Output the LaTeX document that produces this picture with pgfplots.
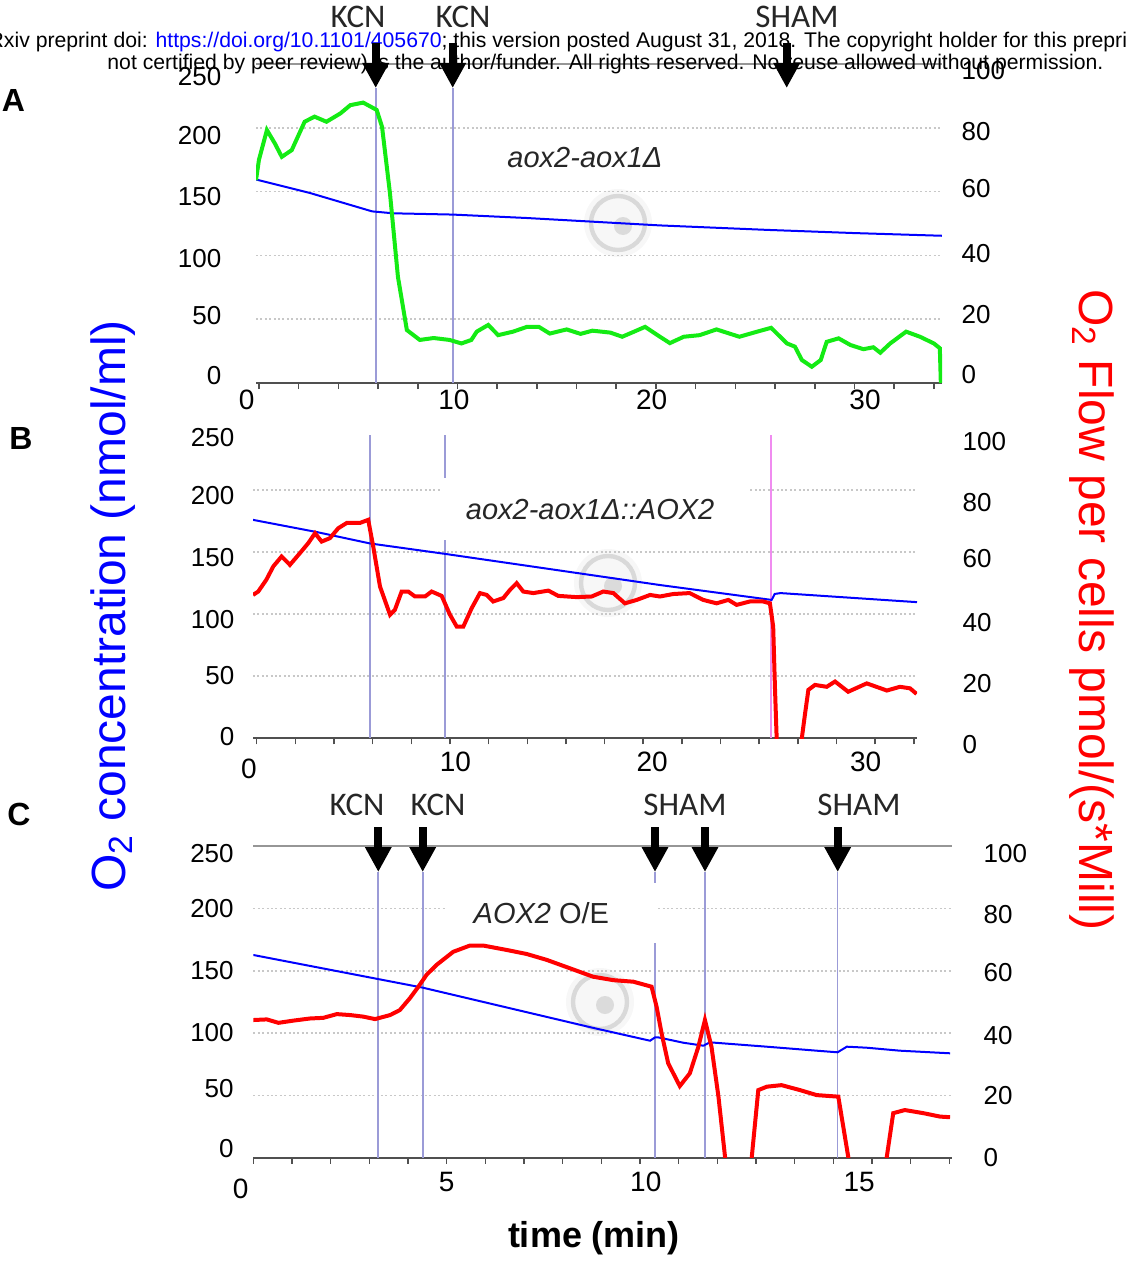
\documentclass[border=0pt]{standalone}
\usepackage{fontspec}
\setmainfont{Liberation Sans}
\newfontfamily\calib{Carlito}
\usepackage{pgfplots}
\pgfplotsset{compat=1.18}
\usetikzlibrary{arrows.meta}

\definecolor{o2blue}{RGB}{0,0,255}
\definecolor{flowgreen}{RGB}{20,235,20}
\definecolor{flowred}{RGB}{255,0,0}
\definecolor{evline}{RGB}{155,155,215}
\definecolor{shamline}{RGB}{240,140,240}
\definecolor{gridcol}{RGB}{200,200,200}
\definecolor{axisgray}{RGB}{80,80,80}
\definecolor{topline}{RGB}{150,150,150}

\tikzset{
  gridline/.style={gridcol, line width=0.8pt, dash pattern=on 1pt off 1.2pt},
  evt/.style={evline, line width=0.9pt},
}
\pgfplotsset{
  every axis/.append style={scale only axis, clip mode=individual,
    /pgf/number format/assume math mode=true},
  lefty/.style={
    ymin=0, ymax=250,
    axis x line*=bottom, axis y line*=left,
    y axis line style={draw=none},
    x axis line style={draw=axisgray, line width=1pt},
    major tick length=0pt, minor tick length=3pt, tick align=outside,
    minor tick style={draw=axisgray, line width=0.8pt},
    yticklabels={0,50,100,150,200,250},
    xticklabel style={font=\fontsize{14}{16}\selectfont},
    yticklabel style={font=\fontsize{13}{15}\selectfont},
    extra x tick labels={0},
  },
  righty/.style={
    ymin=0, ymax=100,
    axis x line=none, axis y line*=right, xtick=\empty,
    y axis line style={draw=none},
    major tick length=0pt,
    yticklabels={0,20,40,60,80,100},
    yticklabel style={font=\fontsize{13}{15}\selectfont},
  },
}

\begin{document}
\begin{tikzpicture}

% faint instrument logos behind the traces
\begin{scope}[x=0.5pt,y=-0.5pt]
  \foreach \cx/\cy in {618/223, 608/583, 600/1002} {
    \fill[gray!6] (\cx,\cy) circle[radius=17pt];
    \draw[gray!30, line width=2.2pt] (\cx,\cy) circle[radius=13.5pt];
    \fill[gray!28] (\cx+5,\cy+3) circle[radius=4.5pt];
  }
\end{scope}

% ---------------- panel A ----------------
\begin{axis}[lefty, at={(128pt,-191.5pt)}, anchor=south west,
  width=343pt, height=159.5pt, xmin=-0.15, xmax=34.41,
  xtick={9.82,19.78,30.53}, xticklabels={10,20,30},
  extra x ticks={-0.149}, extra x tick style={xticklabel style={xshift=-4.65pt}},
  minor xtick={0,2,...,34},
  ytick={5.7,52.8,97.3,145.8,194.1,240},
  yticklabel style={xshift=-13.8pt}]
\pgfplotsinvokeforeach{0.2,0.4,0.6,0.8}{\draw[gridline] (rel axis cs:0,#1) -- (rel axis cs:1,#1);}
\draw[topline, line width=1pt] (rel axis cs:0,1) -- (rel axis cs:1,1);
\draw[evt] (axis cs:5.88,0) -- (axis cs:5.88,231.5);
\draw[evt] (axis cs:9.76,0) -- (axis cs:9.76,231.5);
\node[font=\fontsize{14.5}{16}\selectfont\itshape, text=black!85] at (axis cs:16.42,176.6) {aox2-aox1Δ};
\addplot[o2blue, line width=1pt] coordinates {
  (-0.15,159.5)(2.57,148.9)(5.7,134.5)(6.75,133)(9.76,132)(13.5,129.3)
  (20.2,123.5)(25.6,120)(30,117.5)(34.4,115.4)};
\end{axis}
\begin{axis}[righty, at={(128pt,-191.5pt)}, anchor=south west,
  width=343pt, height=159.5pt, xmin=-0.15, xmax=34.41,
  ytick={2.8,21.6,40.7,60.8,78.8,98.1},
  yticklabel style={xshift=6.3pt}]
\addplot[flowgreen, line width=2pt] coordinates {
  (-0.15,63.6)(0,70)(0.4,79.3)(0.8,75.1)(1.15,70.9)(1.65,73)(2.3,81.9)
  (2.8,83.5)(3.4,81.9)(4.1,84.5)(4.6,87.1)(5.25,87.9)(5.93,85.6)(6.2,80.3)
  (6.6,59.4)(7.0,33.3)(7.45,16.6)(8.1,13.5)(8.8,14.1)(9.6,13.5)(10.2,12.4)
  (10.7,13.5)(10.97,16.1)(11.55,18.2)(12.05,15)(12.8,16.1)(13.5,17.6)
  (14.1,17.6)(14.65,15.5)(15.5,16.8)(16.2,15.4)(16.8,16.4)(17.7,15.8)
  (18.3,14.5)(18.9,16.1)(19.45,17.6)(20.2,14.5)(20.7,12.5)(21.4,14.5)
  (22.2,15)(23.05,16.8)(24.2,14.5)(25.1,16.1)(25.8,17.3)(26.6,12.4)
  (27.0,11.4)(27.35,7.2)(27.85,5.1)(28.3,7.2)(28.6,12.9)(29.2,14)
  (29.8,11.9)(30.45,10.6)(30.95,11.2)(31.3,9.5)(31.8,12.4)(32.6,16.1)
  (33.3,14.5)(34.0,12.4)(34.3,10.9)(34.35,0)};
\end{axis}

% ---------------- panel B ----------------
\begin{axis}[lefty, at={(126.5pt,-369.15pt)}, anchor=south west,
  width=332pt, height=155.15pt, xmin=-0.19, xmax=34.16,
  xtick={10.28,20.46,31.5}, xticklabels={10,20,30},
  extra x ticks={-0.189}, extra x tick style={xticklabel style={xshift=-2pt, yshift=-3.5pt}},
  minor xtick={0,2,...,34},
  xticklabel style={yshift=-3.5pt},
  ytick={1.3,50.5,95.6,145.9,195.6,242.6},
  yticklabel style={xshift=-5.8pt}]
\pgfplotsinvokeforeach{0.2,0.4,0.6,0.8}{\draw[gridline] (rel axis cs:0,#1) -- (rel axis cs:1,#1);}
\draw[evt] (axis cs:5.86,0) -- (axis cs:5.86,244.6);
\draw[evt] (axis cs:9.74,0) -- (axis cs:9.74,244.6);
\draw[shamline, line width=0.9pt] (axis cs:26.6,0) -- (axis cs:26.6,244.6);
\fill[white] (axis cs:9.48,159.9) rectangle (axis cs:25.52,209.9);
\node[font=\fontsize{14.5}{16}\selectfont\itshape, text=black!85] at (axis cs:17.25,184) {aox2-aox1Δ::AOX2};
\addplot[o2blue, line width=1pt] coordinates {
  (-0.19,176)(3.1,166.2)(5.86,157)(9.74,148.6)(17.76,130.5)(20.86,123.5)
  (26.64,111.5)(26.8,116.3)(27.1,117)(34.16,109.7)};
\end{axis}
\begin{axis}[righty, at={(126.5pt,-369.15pt)}, anchor=south west,
  width=332pt, height=155.15pt, xmin=-0.19, xmax=34.16,
  ytick={17.5,37.4,57.8,75.9,95.5}, yticklabels={20,40,60,80,100},
  extra y ticks={0.001}, extra y tick labels={0},
  extra y tick style={yticklabel style={yshift=-2.9pt}},
  yticklabel style={xshift=19.3pt}]
\addplot[flowred, line width=2pt] coordinates {
  (-0.19,46.2)(0.08,47.3)(0.5,51.1)(0.86,55.4)(1.29,58.6)(1.72,55.9)
  (2.24,59.7)(2.67,62.9)(3.02,66.1)(3.36,63.4)(3.79,64.5)(4.22,67.7)
  (4.66,69.4)(5.34,69.4)(5.77,70.4)(6.03,61.8)(6.38,48.9)(6.9,39.8)
  (7.15,41.4)(7.5,47.3)(7.84,47.3)(8.19,45.7)(8.71,45.7)(9.05,47.3)
  (9.57,45.9)(10.0,39.8)(10.35,36)(10.69,36)(11.12,41.9)(11.55,46.8)
  (11.9,46.2)(12.24,44.1)(12.76,45.2)(13.1,47.8)(13.45,50)(13.79,47.3)
  (14.31,46.8)(15.09,47.6)(15.6,45.9)(16.55,45.5)(17.33,45.7)(17.93,47.3)
  (18.45,46.8)(19.05,43.5)(19.66,44.6)(20.35,46.2)(20.86,45.7)(21.55,46.5)
  (22.4,46.8)(23.1,44.6)(23.79,43.5)(24.4,44.6)(24.83,43)(25.52,44.1)
  (26.2,44.1)(26.55,43.5)(26.72,36)(26.81,16.6)(26.9,0)(26.95,-10)
  (28.15,-10)(28.2,0)(28.37,8)(28.54,15.6)(28.88,17.2)(29.49,16.6)
  (29.92,18.3)(30.6,15)(31.56,17.7)(32.6,15.4)(33.28,16.6)(33.8,16.1)
  (34.14,14.3)};
\end{axis}

% ---------------- panel C ----------------
\begin{axis}[lefty, at={(126.65pt,-578.85pt)}, anchor=south west,
  width=349.35pt, height=155.75pt, xmin=0, xmax=18.07,
  xtick={5.0,10.15,15.67}, xticklabels={5,10,15},
  extra x ticks={0.001}, extra x tick style={xticklabel style={xshift=-6.3pt, yshift=-3.5pt}},
  minor xtick={0,1,...,18},
  xticklabel style={yshift=-3.5pt},
  ytick={7,55.7,100.6,150.1,199.6,244.3},
  yticklabel style={xshift=-6.3pt}]
\pgfplotsinvokeforeach{0.2,0.4,0.6,0.8}{\draw[gridline] (rel axis cs:0,#1) -- (rel axis cs:1,#1);}
\draw[topline, line width=1pt] (rel axis cs:0,1) -- (rel axis cs:1,1);
\draw[evt] (axis cs:3.23,0) -- (axis cs:3.23,229.3);
\draw[evt] (axis cs:4.38,0) -- (axis cs:4.38,229.3);
\draw[evt] (axis cs:10.39,0) -- (axis cs:10.39,229.3);
\draw[evt] (axis cs:11.68,0) -- (axis cs:11.68,229.3);
\draw[evt] (axis cs:15.11,0) -- (axis cs:15.11,229.3);
\fill[white] (axis cs:5.01,172.3) rectangle (axis cs:10.47,220.5);
\node[font=\fontsize{14.5}{16}\selectfont, text=black!85] at (axis cs:7.45,196.4) {\textit{AOX2} O/E};
\addplot[o2blue, line width=1pt] coordinates {
  (0,162.7)(4.38,136.5)(8.79,104.2)(10.26,93.9)(10.39,96.6)(10.47,96.6)
  (11.12,92.3)(11.64,89.9)(11.81,92.6)(13.28,89.1)(14.57,85.9)(15.11,84.6)
  (15.35,89.1)(15.86,88.3)(16.72,85.9)(18.02,83.8)};
\end{axis}
\begin{axis}[righty, at={(126.65pt,-578.85pt)}, anchor=south west,
  width=349.35pt, height=155.75pt, xmin=0, xmax=18.07,
  ytick={0.1,19.9,39.2,59.5,78.2,97.7},
  yticklabel style={xshift=12.3pt}]
\addplot[flowred, line width=2pt] coordinates {
  (0,44.2)(0.35,44.4)(0.65,43.3)(1.03,44)(1.47,44.7)(1.81,44.9)(2.16,46.1)
  (2.5,45.8)(2.84,45.3)(3.15,44.5)(3.54,45.8)(3.79,47.4)(4.05,51.2)
  (4.27,54.9)(4.48,58.7)(4.74,61.9)(5.17,66.1)(5.6,68.1)(5.95,68.1)
  (6.55,66.7)(7.07,65.4)(7.59,63.5)(8.19,60.8)(8.79,58.1)(9.31,57)
  (9.83,56.5)(10.3,54.9)(10.43,48.5)(10.56,39.9)(10.73,30.3)(11.03,23)
  (11.29,27.1)(11.51,35.6)(11.68,44.2)(11.85,35.6)(12.03,19.6)(12.2,0.3)
  (12.25,-10)(12.85,-10)(12.89,0)(13.06,21.7)(13.28,22.8)(13.66,23.3)
  (14.14,21.7)(14.57,20.1)(15.13,19.6)(15.39,0)(15.45,-10)(16.33,-10)
  (16.38,0)(16.55,14.3)(16.85,15.3)(17.33,14.3)(17.76,13.2)(18.02,13)};
\end{axis}

% ---------------- annotations ----------------
\begin{scope}[x=0.5pt,y=-0.5pt]
  \node[anchor=base west, inner sep=0, font=\fontsize{10.6}{12}\selectfont] at (-40,48)
    {bioRxiv preprint doi: \textcolor{o2blue}{https://doi.org/10.1101/405670}; this version posted August 31, 2018. The copyright holder for this preprint (which was};
  \node[anchor=base, inner sep=0, font=\fontsize{10.6}{12}\selectfont] at (605.5,70)
    {not certified by peer review) is the author/funder. All rights reserved. No reuse allowed without permission.};

  \tikzset{inj/.style={line width=4pt, -{Triangle[width=12.5pt,length=12.5pt]}}}
  \foreach \ax in {375.7,452.7,786.7} \draw[inj] (\ax,43) -- (\ax,88);
  \foreach \ax in {378.3,422.7,655,705,837.7} \draw[inj] (\ax,827) -- (\ax,872);

  \tikzset{lab/.style={font=\calib\fontsize{16.5}{18}\selectfont, text=black!85}}
  \node[lab] at (358,17) {KCN};
  \node[lab] at (463,17) {KCN};
  \node[lab] at (797,17) {SHAM};
  \node[lab] at (357,805) {KCN};
  \node[lab] at (438,805) {KCN};
  \node[lab] at (685,805) {SHAM};
  \node[lab] at (859,805) {SHAM};

  \node[font=\bfseries\fontsize{16}{18}\selectfont] at (13.5,100) {A};
  \node[font=\bfseries\fontsize{16}{18}\selectfont] at (21,438.5) {B};
  \node[font=\bfseries\fontsize{16}{18}\selectfont] at (19,814) {C};

  \node[rotate=90, text=o2blue, font=\fontsize{24}{28}\selectfont] at (113,606)
    {O\textsubscript{2} concentration (nmol/ml)};
  \node[rotate=-90, text=flowred, font=\fontsize{24}{28}\selectfont] at (1092,610)
    {O\textsubscript{2} Flow per cells pmol/(s*Mill)};
  \node[font=\bfseries\fontsize{18}{20}\selectfont] at (594,1238) {time (min)};
\end{scope}

\pgfresetboundingbox
\path[use as bounding box] (0,0) rectangle (563.5pt,-631.5pt);
\end{tikzpicture}
\end{document}
